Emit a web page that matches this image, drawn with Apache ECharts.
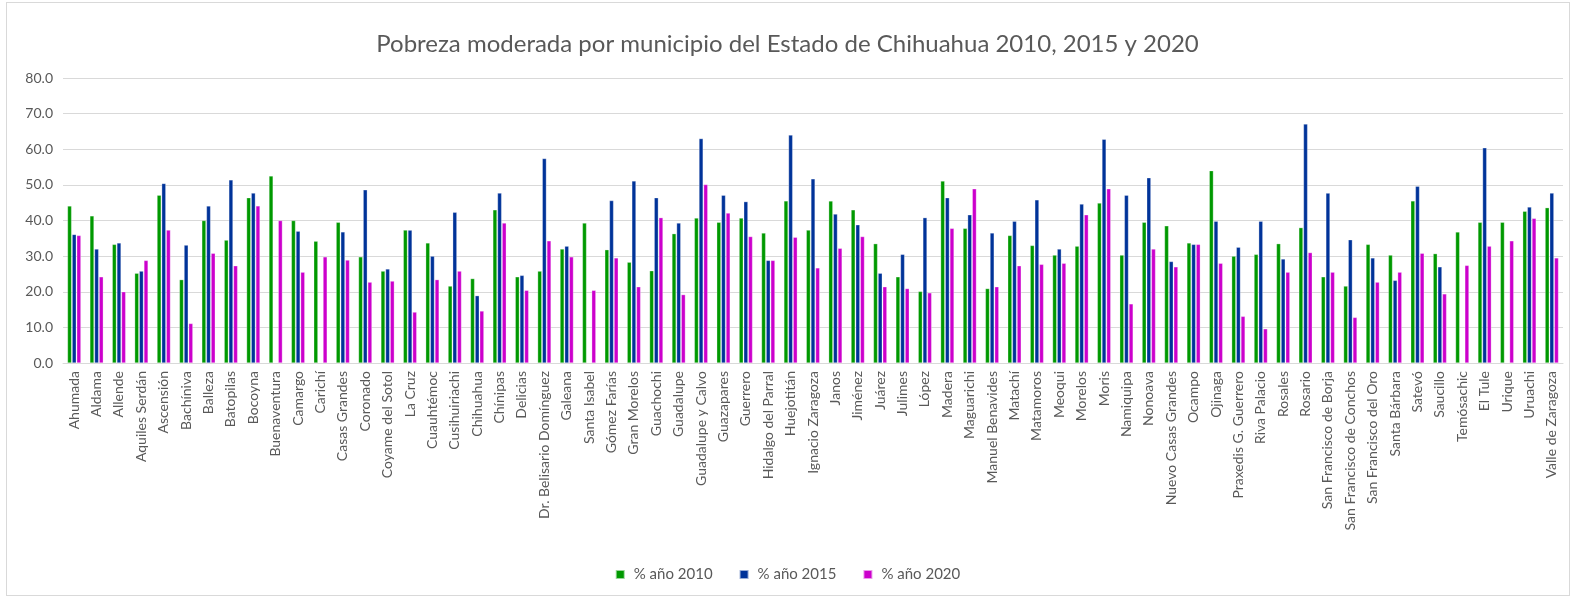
<!DOCTYPE html>
<html>
<head>
<meta charset="utf-8">
<title>Pobreza moderada</title>
<script src="https://cdn.jsdelivr.net/npm/echarts@6/dist/echarts.min.js"></script>
<style>
  html, body { margin: 0; padding: 0; background: #fff; }
  #frame { position: absolute; left: 6px; top: 2px; width: 1562px; height: 592px; border: 1px solid #d9d9d9; }
  #chart { position: absolute; left: 0; top: 0; width: 1575px; height: 598px; }
</style>
</head>
<body>
<div id="frame"></div>
<div id="chart"></div>
<script>
// municipios
const municipios = [
  'Ahumada', 'Aldama', 'Allende', 'Aquiles Serdán', 'Ascensión', 'Bachíniva', 'Balleza',
  'Batopilas', 'Bocoyna', 'Buenaventura', 'Camargo', 'Carichí', 'Casas Grandes', 'Coronado',
  'Coyame del Sotol', 'La Cruz', 'Cuauhtémoc', 'Cusihuiriachi', 'Chihuahua', 'Chínipas',
  'Delicias', 'Dr. Belisario Domínguez', 'Galeana', 'Santa Isabel', 'Gómez Farías',
  'Gran Morelos', 'Guachochi', 'Guadalupe', 'Guadalupe y Calvo', 'Guazapares', 'Guerrero',
  'Hidalgo del Parral', 'Huejotitán', 'Ignacio Zaragoza', 'Janos', 'Jiménez', 'Juárez',
  'Julimes', 'López', 'Madera', 'Maguarichi', 'Manuel Benavides', 'Matachí', 'Matamoros',
  'Meoqui', 'Morelos', 'Moris', 'Namiquipa', 'Nonoava', 'Nuevo Casas Grandes', 'Ocampo',
  'Ojinaga', 'Praxedis G. Guerrero', 'Riva Palacio', 'Rosales', 'Rosario',
  'San Francisco de Borja', 'San Francisco de Conchos', 'San Francisco del Oro',
  'Santa Bárbara', 'Satevó', 'Saucillo', 'Temósachic', 'El Tule', 'Urique', 'Uruachi',
  'Valle de Zaragoza'
]

// % año 2010
const anio2010 = [
  44.1, 41.3, 33.3, 25.2, 47.1, 23.4, 40.0, 34.5, 46.4, 52.5, 40.0, 34.2, 39.5, 29.8,
  25.8, 37.3, 33.7, 21.6, 23.7, 43.0, 24.2, 25.8, 32.0, 39.3, 31.8, 28.3, 25.9, 36.3,
  40.7, 39.5, 40.7, 36.5, 45.5, 37.3, 45.5, 43.0, 33.5, 24.2, 20.1, 51.1, 37.8, 20.9,
  35.8, 33.0, 30.3, 32.8, 44.9, 30.3, 39.5, 38.5, 33.7, 54.0, 30.0, 30.5, 33.5, 38.0,
  24.2, 21.6, 33.3, 30.3, 45.5, 30.7, 36.8, 39.5, 39.5, 42.6, 43.6
]

// % año 2015 (sin dato en algunos municipios)
const anio2015 = [
  36.1, 32.0, 33.7, 25.8, 50.4, 33.1, 44.1, 51.4, 47.7, null, 37.0, null, 36.8, 48.6,
  26.4, 37.3, 30.0, 42.3, 18.9, 47.7, 24.6, 57.4, 32.8, null, 45.6, 51.1, 46.4, 39.3,
  63.0, 47.1, 45.3, 28.8, 64.0, 51.7, 41.8, 38.8, 25.2, 30.5, 40.8, 46.4, 41.6, 36.5,
  39.8, 45.8, 32.0, 44.6, 62.8, 47.1, 52.0, 28.5, 33.3, 39.8, 32.5, 39.8, 29.2, 67.1,
  47.7, 34.6, 29.5, 23.2, 49.6, 27.0, null, 60.4, null, 43.8, 47.7
]

// % año 2020
const anio2020 = [
  35.8, 24.2, 20.0, 28.8, 37.3, 11.1, 30.8, 27.3, 44.1, 40.0, 25.5, 29.8, 28.9, 22.7,
  23.0, 14.3, 23.4, 25.8, 14.6, 39.3, 20.4, 34.3, 29.8, 20.4, 29.5, 21.4, 40.8, 19.2,
  50.1, 42.1, 35.5, 28.8, 35.3, 26.7, 32.2, 35.5, 21.4, 20.9, 19.7, 37.8, 48.9, 21.4,
  27.3, 27.7, 28.0, 41.6, 48.9, 16.6, 32.0, 27.0, 33.3, 28.0, 13.1, 9.6, 25.5, 31.0,
  25.5, 12.8, 22.7, 25.5, 30.8, 19.4, 27.4, 32.8, 34.3, 40.6, 29.5
]

const textFont = 'Lato, "Liberation Sans", sans-serif'
const textColor = '#595959'

const chart = echarts.init(document.getElementById('chart'))

function barSerie(name, data, color) {
  return {
    name: name,
    type: 'bar',
    data: data,
    barGap: '12%',
    barCategoryGap: '40%',
    itemStyle: {
      color: color,
      borderColor: 'rgba(255,255,255,0.6)',
      borderWidth: 0.5
    },
    animation: false
  }
}

chart.setOption({
  backgroundColor: 'transparent',
  title: {
    text: 'Pobreza moderada por municipio del Estado de Chihuahua 2010, 2015 y 2020',
    left: 'center',
    top: 27,
    textStyle: {
      fontFamily: textFont,
      fontSize: 24,
      fontWeight: 'normal',
      color: textColor
    }
  },
  legend: {
    bottom: 11,
    left: 'center',
    itemWidth: 9,
    itemHeight: 9,
    itemGap: 26,
    icon: 'rect',
    textStyle: { fontFamily: textFont, fontSize: 15, color: textColor, padding: [0, 0, 0, 4] },
    data: ['% año 2010', '% año 2015', '% año 2020']
  },
  grid: {
    top: 78,
    left: 63,
    right: 12,
    bottom: 235
  },
  xAxis: {
    type: 'category',
    data: municipios,
    axisLine: { lineStyle: { color: '#d9d9d9' } },
    axisTick: { show: false },
    axisLabel: {
      interval: 0,
      rotate: 90,
      margin: 8,
      fontFamily: textFont,
      fontSize: 14,
      color: textColor
    }
  },
  yAxis: {
    type: 'value',
    min: 0,
    max: 80,
    interval: 10,
    axisLine: { show: false },
    axisTick: { show: false },
    splitLine: { lineStyle: { color: '#d9d9d9' } },
    axisLabel: {
      margin: 10,
      fontFamily: textFont,
      fontSize: 14,
      color: textColor,
      formatter: function(v) { return v.toFixed(1) }
    }
  },
  series: [
    barSerie('% año 2010', anio2010, '#009900'),
    barSerie('% año 2015', anio2015, '#003399'),
    barSerie('% año 2020', anio2020, '#cc00cc')
  ]
})
</script>
</body>
</html>
